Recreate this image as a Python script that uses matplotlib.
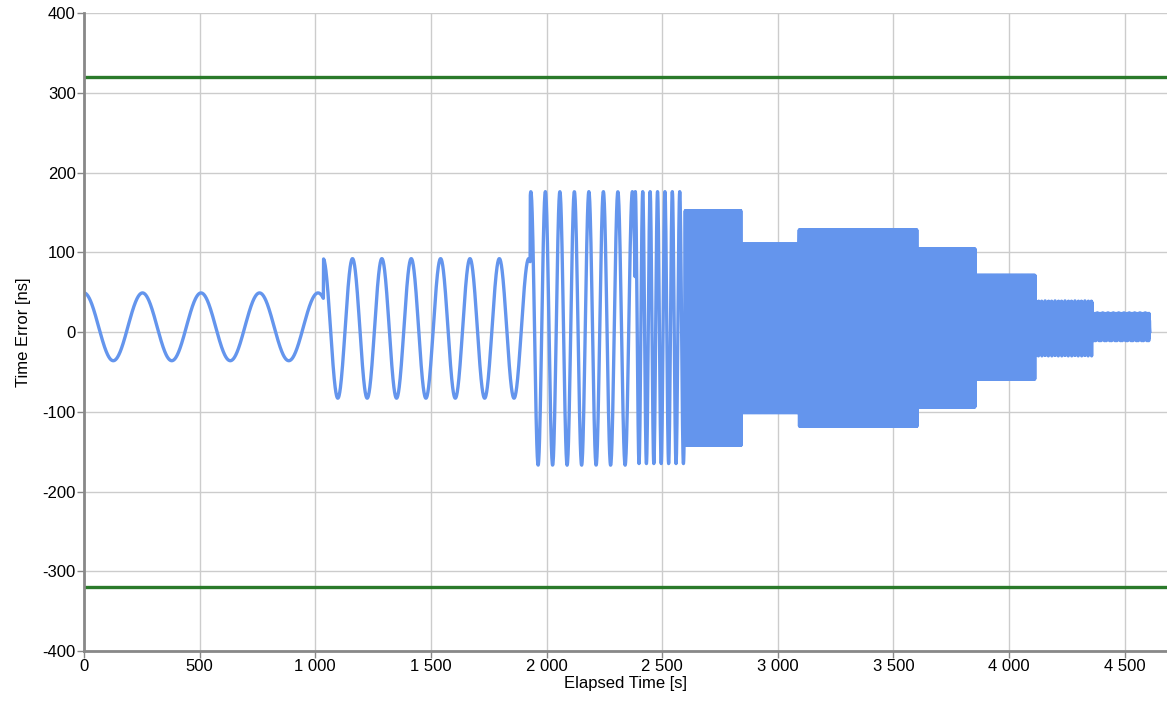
import numpy as np
import matplotlib
matplotlib.use('Agg')
import matplotlib.pyplot as plt
from matplotlib.ticker import FuncFormatter, MultipleLocator

plt.rcParams['font.family'] = ['Liberation Sans', 'DejaVu Sans']
plt.rcParams['axes.unicode_minus'] = False

# sine wander segments
seg_start  = [0,    1036, 1930, 2384, 2600, 2842, 3093, 3603, 3854, 4113, 4359]
seg_end    = [1036, 1930, 2384, 2600, 2842, 3093, 3603, 3854, 4113, 4359, 4610]
seg_top    = [49,   92,   176,  176,  152,  110,  128,  104,  71,   39,   24]
seg_bottom = [-36,  -83,  -167, -165, -142, -101, -118, -94,  -59,  -30,  -11]
seg_period = [253,  127,  62.7, 32,   2,    2,    2,    2,    2,    2.15, 2.3]
seg_peak   = [0,    1161, 1995, 2384, 2600, 2842, 3093, 3603, 3854, 4113, 4359]

limit = 320  # mask limit, ns

t_parts, y_parts = [], []
for s, e, hi, lo, p, pk in zip(seg_start, seg_end, seg_top, seg_bottom, seg_period, seg_peak):
    t = np.arange(s, e, 1.0)
    mid, amp = (hi + lo) / 2, (hi - lo) / 2
    t_parts.append(t)
    y_parts.append(mid + amp * np.cos(2 * np.pi * (t - pk) / p))
t = np.concatenate(t_parts)
y = np.concatenate(y_parts)

fig = plt.figure(figsize=(11.67, 7.02), dpi=100)
ax = fig.add_axes([84 / 1167, 1 - 651 / 702, 1 - 84 / 1167, (651 - 13) / 702])

ax.plot(t, y, color='#6495ED', lw=2.4)
ax.axhline(limit, color='#2a7a2a', lw=2.4)
ax.axhline(-limit, color='#2a7a2a', lw=2.4)

ax.set_xlim(0, 4683)
ax.set_ylim(-400, 400)
ax.xaxis.set_major_locator(MultipleLocator(500))
ax.yaxis.set_major_locator(MultipleLocator(100))
ax.xaxis.set_major_formatter(FuncFormatter(lambda v, _: f'{int(v):,}'.replace(',', ' ')))
ax.grid(True, color='#cccccc', lw=1)
ax.set_axisbelow(True)

for spine in ('top', 'right'):
    ax.spines[spine].set_visible(False)
for spine in ('left', 'bottom'):
    ax.spines[spine].set_color('#888888')
    ax.spines[spine].set_linewidth(2)

ax.tick_params(colors='#888888', labelcolor='black', labelsize=12, length=5, width=1, pad=1)
ax.set_xlabel('Elapsed Time [s]', fontsize=12, labelpad=1)
ax.set_ylabel('Time Error [ns]', fontsize=12, labelpad=8)

fig.savefig('out.png', dpi=100)
